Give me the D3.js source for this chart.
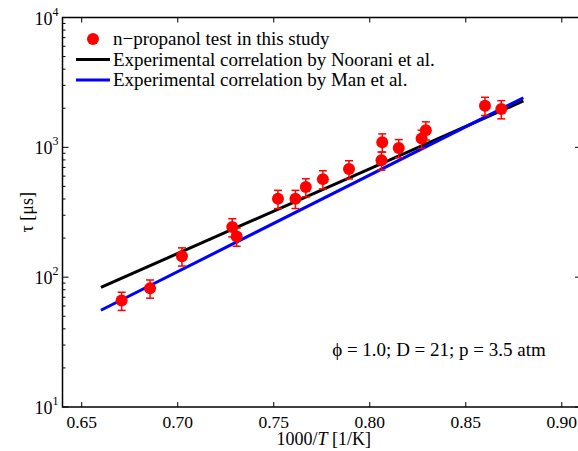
<!DOCTYPE html>
<html>
<head>
<meta charset="utf-8">
<script src="https://cdn.jsdelivr.net/npm/d3@7"></script>
<style>
  body { margin: 0; background: #fff; }
  svg { display: block; font-family: "Liberation Serif", "Times New Roman", serif; }
</style>
</head>
<body>
<div id="chart"></div>
<script>
// measured ignition delay data (1000/T, tau in microseconds)
var invT = [0.6708, 0.6856, 0.7022, 0.7284, 0.7307, 0.7522, 0.7613, 0.7667, 0.7756,
            0.7892, 0.8061, 0.8065, 0.8151, 0.8270, 0.8292, 0.8600, 0.8685];
var tau = [66, 82, 145, 243, 206, 402, 402, 494, 569,
           680, 794, 1094, 989, 1169, 1355, 2094, 1973];
var errFrac = 0.16; // relative error bar size

// correlation lines, end points
var noorX = [0.66, 0.88];
var noorTau = [83.5, 2275];
var manX = [0.66, 0.88];
var manTau = [55.6, 2410];

var xTicks = [0.65, 0.70, 0.75, 0.80, 0.85, 0.90];
var yTicks = [10, 100, 1000, 10000];

var legendLabels = ["n\u2212propanol test in this study",
                    "Experimental correlation by Noorani et al.",
                    "Experimental correlation by Man et al."];

var fullWidth = 578, fullHeight = 451;
var margin = { top: 17.5, right: -3, bottom: 44, left: 62.5 };
var width = fullWidth - margin.left - margin.right;
var height = fullHeight - margin.top - margin.bottom;

var svg = d3.select("#chart").append("svg")
    .attr("width", fullWidth)
    .attr("height", fullHeight);

var g = svg.append("g")
    .attr("transform", "translate(" + margin.left + "," + margin.top + ")");

var x = d3.scaleLinear().domain([0.64, 0.91]).range([0, width]);
var y = d3.scaleLog().domain([10, 10000]).range([height, 0]);

// correlation lines
var line = d3.line()
    .x(function(d) { return x(d[0]); })
    .y(function(d) { return y(d[1]); });

g.append("path")
    .datum(d3.zip(noorX, noorTau))
    .attr("fill", "none")
    .attr("stroke", "#000")
    .attr("stroke-width", 3)
    .attr("d", line);

g.append("path")
    .datum(d3.zip(manX, manTau))
    .attr("fill", "none")
    .attr("stroke", "#0000ff")
    .attr("stroke-width", 3)
    .attr("d", line);

// data points with error bars
var pts = d3.zip(invT, tau);
var red = "#ff0000";
var capW = 4;

var pg = g.selectAll(".pt").data(pts).enter().append("g").attr("class", "pt");
pg.append("line")
    .attr("x1", function(d) { return x(d[0]); })
    .attr("x2", function(d) { return x(d[0]); })
    .attr("y1", function(d) { return y(d[1] * (1 + errFrac)); })
    .attr("y2", function(d) { return y(d[1] * (1 - errFrac)); })
    .attr("stroke", red).attr("stroke-width", 1.5);
pg.append("line")
    .attr("x1", function(d) { return x(d[0]) - capW; })
    .attr("x2", function(d) { return x(d[0]) + capW; })
    .attr("y1", function(d) { return y(d[1] * (1 + errFrac)); })
    .attr("y2", function(d) { return y(d[1] * (1 + errFrac)); })
    .attr("stroke", red).attr("stroke-width", 1.5);
pg.append("line")
    .attr("x1", function(d) { return x(d[0]) - capW; })
    .attr("x2", function(d) { return x(d[0]) + capW; })
    .attr("y1", function(d) { return y(d[1] * (1 - errFrac)); })
    .attr("y2", function(d) { return y(d[1] * (1 - errFrac)); })
    .attr("stroke", red).attr("stroke-width", 1.5);
pg.append("circle")
    .attr("cx", function(d) { return x(d[0]); })
    .attr("cy", function(d) { return y(d[1]); })
    .attr("r", 6)
    .attr("fill", red);

// frame
g.append("rect")
    .attr("width", width).attr("height", height)
    .attr("fill", "none").attr("stroke", "#000").attr("stroke-width", 1.5);

// x axis ticks (bottom + top, inward)
xTicks.forEach(function(t) {
    g.append("line").attr("x1", x(t)).attr("x2", x(t))
        .attr("y1", height).attr("y2", height - 5)
        .attr("stroke", "#000").attr("stroke-width", 1);
    g.append("line").attr("x1", x(t)).attr("x2", x(t))
        .attr("y1", 0).attr("y2", 5)
        .attr("stroke", "#000").attr("stroke-width", 1);
    g.append("text")
        .attr("x", x(t)).attr("y", height + 21)
        .attr("text-anchor", "middle")
        .attr("font-size", 17.5)
        .text(t.toFixed(2));
});

// y axis ticks (major + minor, left and right)
var minor = [];
for (var dec = 10; dec < 10000; dec *= 10) {
    for (var k = 2; k <= 9; k++) minor.push(dec * k);
}
minor.forEach(function(v) {
    g.append("line").attr("x1", 0).attr("x2", 3)
        .attr("y1", y(v)).attr("y2", y(v))
        .attr("stroke", "#000").attr("stroke-width", 1);
    g.append("line").attr("x1", width).attr("x2", width - 3)
        .attr("y1", y(v)).attr("y2", y(v))
        .attr("stroke", "#000").attr("stroke-width", 1);
});
yTicks.forEach(function(v) {
    g.append("line").attr("x1", 0).attr("x2", 6)
        .attr("y1", y(v)).attr("y2", y(v))
        .attr("stroke", "#000").attr("stroke-width", 1);
    g.append("line").attr("x1", width).attr("x2", width - 6)
        .attr("y1", y(v)).attr("y2", y(v))
        .attr("stroke", "#000").attr("stroke-width", 1);
    var lbl = g.append("text")
        .attr("x", -4).attr("y", y(v) + 7)
        .attr("text-anchor", "end")
        .attr("font-size", 18);
    lbl.append("tspan").text("10");
    lbl.append("tspan").attr("dy", -9).attr("font-size", 12).text(Math.round(Math.log10(v)));
});

// axis labels
var xl = svg.append("text")
    .attr("x", margin.left + x(0.776)).attr("y", 445)
    .attr("text-anchor", "middle")
    .attr("font-size", 18);
xl.append("tspan").text("1000/");
xl.append("tspan").attr("font-style", "italic").text("T");
xl.append("tspan").text(" [1/K]");

svg.append("text")
    .attr("transform", "translate(33," + (margin.top + height / 2) + ") rotate(-90)")
    .attr("text-anchor", "middle")
    .attr("font-size", 18)
    .text("\u03c4 [\u03bcs]");

// annotation
svg.append("text")
    .attr("x", 439).attr("y", 356)
    .attr("text-anchor", "middle")
    .attr("font-size", 19)
    .text("\u03d5 = 1.0; D = 21; p = 3.5 atm");

// legend
var legend = svg.append("g").attr("transform", "translate(76,39)");
legendLabels.forEach(function(lab, i) {
    var ly = i * 20.5;
    if (i === 0) {
        legend.append("circle").attr("cx", 17).attr("cy", ly).attr("r", 6).attr("fill", red);
    } else {
        legend.append("line").attr("x1", 0).attr("x2", 34)
            .attr("y1", ly).attr("y2", ly)
            .attr("stroke", i === 1 ? "#000" : "#0000ff")
            .attr("stroke-width", 3);
    }
    legend.append("text")
        .attr("x", 37).attr("y", ly + 6)
        .attr("font-size", 19)
        .text(lab);
});
</script>
</body>
</html>
